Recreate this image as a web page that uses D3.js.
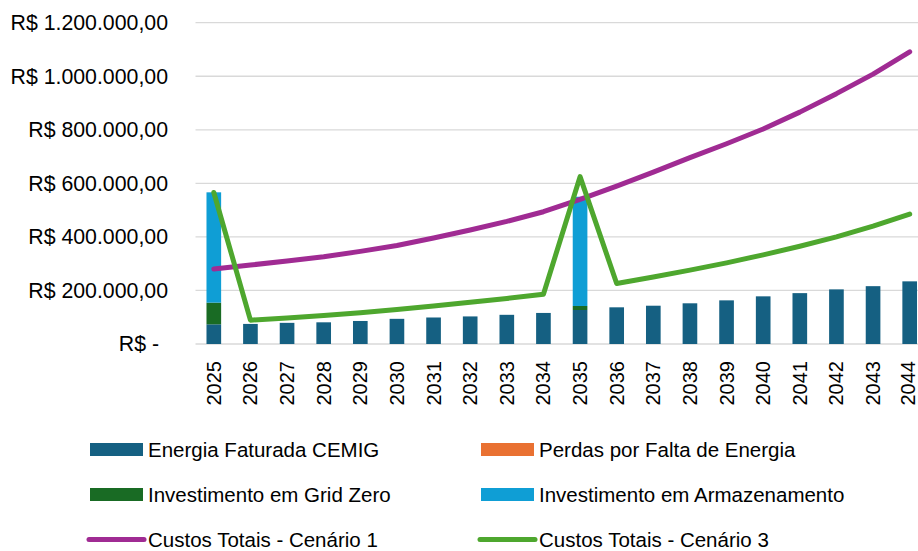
<!DOCTYPE html>
<html>
<head>
<meta charset="utf-8">
<script src="https://cdn.jsdelivr.net/npm/d3@7"></script>
<style>
  html, body { margin: 0; padding: 0; background: #fff; }
  svg { display: block; }
</style>
</head>
<body>
<svg id="chart" width="918" height="551"></svg>
<script>
// ---------- DATA ----------
const years = ["2025","2026","2027","2028","2029","2030","2031","2032","2033","2034",
               "2035","2036","2037","2038","2039","2040","2041","2042","2043","2044"];
const energiaFaturada = [73500, 75000, 79000, 81000, 86000, 94000, 99000, 103000, 109000, 116000,
                         127000, 137000, 143000, 152000, 163000, 178000, 190000, 204000, 216000, 234000];
const perdasFalta = [0,0,0,0,0,0,0,0,0,0, 0,0,0,0,0,0,0,0,0,0];
const investGridZero = [81000,0,0,0,0,0,0,0,0,0, 15000,0,0,0,0,0,0,0,0,0];
const investArmazenamento = [412000,0,0,0,0,0,0,0,0,0, 408000,0,0,0,0,0,0,0,0,0];
const custosCenario1 = [280000, 295000, 310000, 326000, 346000, 368000, 396000, 426000, 458000, 494000,
                        540000, 590000, 642000, 696000, 748000, 803000, 866000, 935000, 1008000, 1091000];
const custosCenario3 = [566000, 89000, 97000, 106000, 117000, 129000, 142000, 156000, 170000, 186000,
                        625000, 226000, 250000, 276000, 303000, 333000, 365000, 400000, 440000, 485000];
const yTicks = [0, 200000, 400000, 600000, 800000, 1000000, 1200000];

const barSeries = [
  {name: "Energia Faturada CEMIG", values: energiaFaturada, color: "#156082"},
  {name: "Perdas por Falta de Energia", values: perdasFalta, color: "#E97132"},
  {name: "Investimento em Grid Zero", values: investGridZero, color: "#196B24"},
  {name: "Investimento em Armazenamento", values: investArmazenamento, color: "#0F9ED5"}
];
const lineSeries = [
  {name: "Custos Totais - Cenário 1", values: custosCenario1, color: "#A02B93"},
  {name: "Custos Totais - Cenário 3", values: custosCenario3, color: "#4EA72E"}
];

// ---------- LAYOUT ----------
const svg = d3.select("#chart");
const plotLeft = 195.5, plotRight = 928, plotTop = 22.7, plotBottom = 344;
const tickFont = "'Liberation Sans', Arial, sans-serif";
const legendFont = "'Liberation Sans', Arial, sans-serif";

const x = d3.scaleBand().domain(years).range([plotLeft, plotRight]).paddingInner(0.6).paddingOuter(0.3);
const y = d3.scaleLinear().domain([0, 1200000]).range([plotBottom, plotTop]);

function fmtBRL(v) {
  if (v === 0) return "R$ -";
  const s = d3.format(",.2f")(v);
  return "R$ " + s.replace(/,/g, "#").replace(".", ",").replace(/#/g, ".");
}

// gridlines
svg.append("g")
  .selectAll("line")
  .data(yTicks)
  .join("line")
  .attr("x1", plotLeft).attr("x2", plotRight)
  .attr("y1", d => y(d)).attr("y2", d => y(d))
  .attr("stroke", "#d9d9d9")
  .attr("stroke-width", 1.3);

// y axis labels
const yAxis = d3.axisLeft(y).tickValues(yTicks).tickSize(0).tickPadding(0).tickFormat(fmtBRL);
const yg = svg.append("g").attr("transform", `translate(168,0)`).call(yAxis);
yg.select(".domain").remove();
yg.selectAll("text")
  .attr("font-family", tickFont)
  .attr("font-size", 21.3)
  .attr("fill", "#000")
  .attr("dx", d => d === 0 ? -9 : 0);

// stacked bars
const stackData = years.map((yr, i) => {
  const o = {year: yr};
  barSeries.forEach(s => o[s.name] = s.values[i]);
  return o;
});
const stack = d3.stack().keys(barSeries.map(s => s.name));
const stacked = stack(stackData);
svg.append("g")
  .selectAll("g")
  .data(stacked)
  .join("g")
  .attr("fill", (d, i) => barSeries[i].color)
  .selectAll("rect")
  .data(d => d)
  .join("rect")
  .attr("x", d => x(d.data.year))
  .attr("width", x.bandwidth())
  .attr("y", d => y(d[1]))
  .attr("height", d => Math.max(0, y(d[0]) - y(d[1])));

// lines
const line = d3.line()
  .x((d, i) => x(years[i]) + x.bandwidth() / 2)
  .y(d => y(d));
svg.append("g")
  .selectAll("path")
  .data(lineSeries)
  .join("path")
  .attr("d", d => line(d.values))
  .attr("fill", "none")
  .attr("stroke", d => d.color)
  .attr("stroke-width", 5)
  .attr("stroke-linecap", "round")
  .attr("stroke-linejoin", "round");

// x axis labels
const xAxis = d3.axisBottom(x).tickSize(0).tickPadding(0);
const xg = svg.append("g").attr("transform", `translate(0,${plotBottom})`).call(xAxis);
xg.select(".domain").remove();
xg.selectAll("text")
  .attr("font-family", tickFont)
  .attr("font-size", 20)
  .attr("fill", "#000")
  .attr("transform", "rotate(-90)")
  .attr("text-anchor", "end")
  .attr("x", -17)
  .attr("y", (d, i) => i === years.length - 1 ? -2 : 0)
  .attr("dy", "0.35em");

// legend
const legendItems = [
  {s: barSeries[0], type: "bar", col: 0, row: 0},
  {s: barSeries[1], type: "bar", col: 1, row: 0},
  {s: barSeries[2], type: "bar", col: 0, row: 1},
  {s: barSeries[3], type: "bar", col: 1, row: 1},
  {s: lineSeries[0], type: "line", col: 0, row: 2},
  {s: lineSeries[1], type: "line", col: 1, row: 2}
];
const colX = [90, 481];
const rowY = [449.5, 494.5, 539.5];
const lg = svg.append("g");
legendItems.forEach(it => {
  const gx = colX[it.col], gy = rowY[it.row];
  if (it.type === "bar") {
    lg.append("rect").attr("x", gx).attr("y", gy - 6.5).attr("width", 53).attr("height", 13)
      .attr("fill", it.s.color);
  } else {
    lg.append("line").attr("x1", gx - 1).attr("x2", gx + 54).attr("y1", gy).attr("y2", gy)
      .attr("stroke", it.s.color).attr("stroke-width", 5).attr("stroke-linecap", "round");
  }
  lg.append("text").attr("x", gx + 58).attr("y", gy).attr("dy", "0.35em")
    .attr("font-family", legendFont).attr("font-size", 20.5).attr("fill", "#000")
    .text(it.s.name);
});
</script>
</body>
</html>
